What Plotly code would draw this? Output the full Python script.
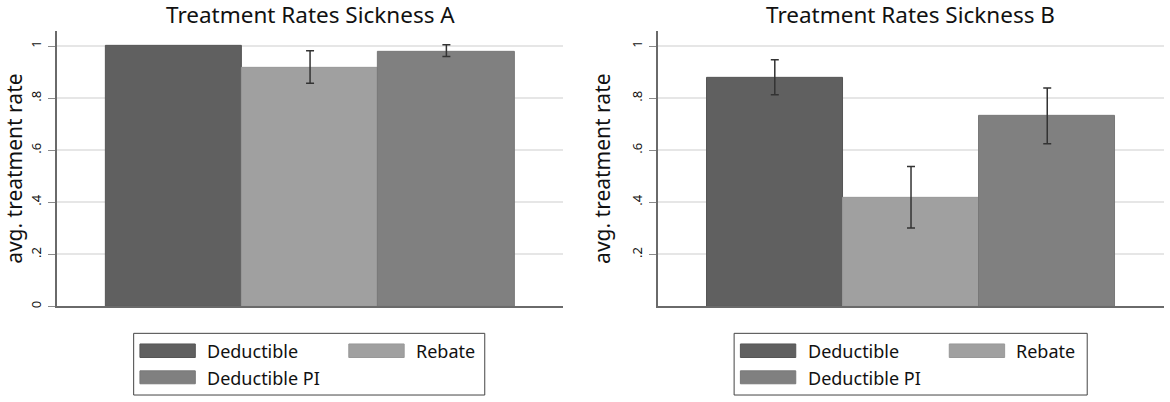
import plotly.graph_objects as go

# ---- data ----
groups = ["Deductible", "Rebate", "Deductible PI"]
colors = ["#606060", "#a0a0a0", "#808080"]
edge_colors = ["#555555", "#989898", "#787878"]

rate_a = [1.0, 0.918, 0.979]
upper_a = [1.0, 0.982, 1.005]
lower_a = [1.0, 0.857, 0.960]

rate_b = [0.878, 0.417, 0.731]
upper_b = [0.947, 0.538, 0.839]
lower_b = [0.813, 0.301, 0.625]

titles = ["Treatment Rates Sickness A", "Treatment Rates Sickness B"]
ytitle = "avg. treatment rate"
tickvals_a = [0, 0.2, 0.4, 0.6, 0.8, 1]
ticktext_a = ["0", ".2", ".4", ".6", ".8", "1"]
tickvals_b = [0.2, 0.4, 0.6, 0.8, 1]
ticktext_b = [".2", ".4", ".6", ".8", "1"]

W, H = 1170, 402
FONT = "Noto Sans"

def px_x(p):
    return p / W

def px_y(p):
    return 1 - p / H

fig = go.Figure()

panels = [
    (rate_a, upper_a, lower_a, "x", "y"),
    (rate_b, upper_b, lower_b, "x2", "y2"),
]
for rates, ups, los, xa, ya in panels:
    for i, g in enumerate(groups):
        has_err = (ups[i] - rates[i] > 0) or (rates[i] - los[i] > 0)
        fig.add_trace(go.Bar(
            x=[i], y=[rates[i]], width=1, name=g, xaxis=xa, yaxis=ya,
            marker=dict(color=colors[i], line=dict(color=edge_colors[i], width=1)),
            error_y=dict(type="data", symmetric=False,
                         array=[ups[i] - rates[i]], arrayminus=[rates[i] - los[i]],
                         color="#333333", thickness=1.5, width=4,
                         visible=has_err),
            showlegend=False, hoverinfo="x+y",
        ))

ydom = [px_y(308), px_y(31)]
ymax = (308 - 31) / 261.7
bar_w = 136.6
xrange_ = [-0.5 - 48.8 / bar_w, 2.5 + 48.8 / bar_w]

axis_common = dict(showline=True, linecolor="#6a6a6a", linewidth=1.5)
yaxis_common = dict(
    domain=ydom, range=[0, ymax],
    tickangle=-90, tickfont=dict(size=13, family=FONT, color="#111111"),
    ticks="outside", ticklen=7, tickwidth=1.2, tickcolor="#8a8a8a",
    ticklabelstandoff=2,
    showgrid=True, gridcolor="#e6e6e6", gridwidth=1.5, zeroline=False,
    title=dict(text=ytitle, font=dict(size=21, family=FONT, color="#111111"), standoff=12),
    **axis_common,
)
fig.update_layout(
    width=W, height=H,
    margin=dict(l=0, r=0, t=0, b=0),
    plot_bgcolor="white", paper_bgcolor="white",
    font=dict(family=FONT, color="#111111"),
    bargap=0,
    xaxis=dict(domain=[px_x(54), px_x(561.7)], range=xrange_, showticklabels=False,
               ticks="", showgrid=False, zeroline=False, **axis_common),
    xaxis2=dict(domain=[px_x(656.7), px_x(1164)], range=xrange_, showticklabels=False,
                ticks="", showgrid=False, zeroline=False, anchor="y2", **axis_common),
    yaxis=dict(tickvals=tickvals_a, ticktext=ticktext_a, **yaxis_common),
    yaxis2=dict(tickvals=tickvals_b, ticktext=ticktext_b, anchor="x2", **yaxis_common),
)

# subplot titles
for cx, t in [(307.9, titles[0]), (910.3, titles[1])]:
    fig.add_annotation(x=px_x(cx), y=px_y(15), xref="paper", yref="paper",
                       text=t, showarrow=False, font=dict(size=22.5, family=FONT, color="#111111"),
                       xanchor="center", yanchor="middle")

# manual legends
for bx0, bx1 in [(131, 483), (733, 1087)]:
    fig.add_shape(type="rect", xref="paper", yref="paper",
                  x0=px_x(bx0), x1=px_x(bx1), y0=px_y(397), y1=px_y(335),
                  line=dict(color="#444444", width=1), fillcolor="white")
    off = bx0 - 131
    entries = [
        (0, 137.3, 345.7, 359.3, 202.7, 352.5),
        (1, 346.7, 345.7, 359.3, 412.0, 352.5),
        (2, 137.3, 372.7, 385.7, 202.7, 380.0),
    ]
    for idx, sx0, sy0, sy1, tx, ty in entries:
        fig.add_shape(type="rect", xref="paper", yref="paper",
                      x0=px_x(sx0 + off), x1=px_x(sx0 + off + 55.5),
                      y0=px_y(sy1), y1=px_y(sy0),
                      line=dict(color=edge_colors[idx], width=1), fillcolor=colors[idx])
        fig.add_annotation(x=px_x(tx + off), y=px_y(ty), xref="paper", yref="paper",
                           text=groups[idx], showarrow=False,
                           font=dict(size=18, family=FONT, color="#111111"),
                           xanchor="left", yanchor="middle")

# remove the default 8px page margin so the figure sits at the window's corner
fig.write_html("out.html", config={"displayModeBar": False},
               post_script="document.body.style.margin='0px';")
